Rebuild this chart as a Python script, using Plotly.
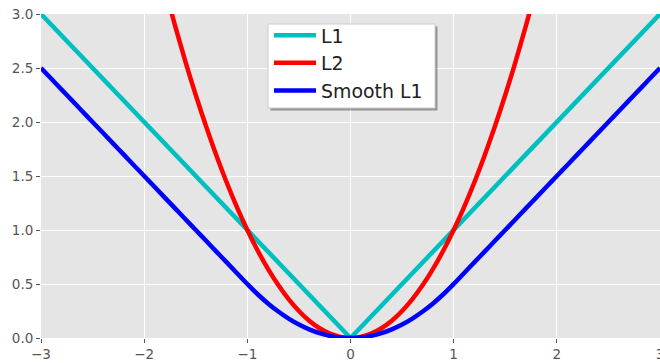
import plotly.graph_objects as go

x_vals = [-3.0, -2.9, -2.8, -2.7, -2.6, -2.5, -2.4, -2.3, -2.2, -2.1, -2.0,
          -1.9, -1.8, -1.7, -1.6, -1.5, -1.4, -1.3, -1.2, -1.1, -1.0,
          -0.9, -0.8, -0.7, -0.6, -0.5, -0.4, -0.3, -0.2, -0.1, 0.0,
          0.1, 0.2, 0.3, 0.4, 0.5, 0.6, 0.7, 0.8, 0.9, 1.0,
          1.1, 1.2, 1.3, 1.4, 1.5, 1.6, 1.7, 1.8, 1.9, 2.0,
          2.1, 2.2, 2.3, 2.4, 2.5, 2.6, 2.7, 2.8, 2.9, 3.0]

l1_vals = [3.0, 2.9, 2.8, 2.7, 2.6, 2.5, 2.4, 2.3, 2.2, 2.1, 2.0,
           1.9, 1.8, 1.7, 1.6, 1.5, 1.4, 1.3, 1.2, 1.1, 1.0,
           0.9, 0.8, 0.7, 0.6, 0.5, 0.4, 0.3, 0.2, 0.1, 0.0,
           0.1, 0.2, 0.3, 0.4, 0.5, 0.6, 0.7, 0.8, 0.9, 1.0,
           1.1, 1.2, 1.3, 1.4, 1.5, 1.6, 1.7, 1.8, 1.9, 2.0,
           2.1, 2.2, 2.3, 2.4, 2.5, 2.6, 2.7, 2.8, 2.9, 3.0]

l2_vals = [9.0, 8.41, 7.84, 7.29, 6.76, 6.25, 5.76, 5.29, 4.84, 4.41, 4.0,
           3.61, 3.24, 2.89, 2.56, 2.25, 1.96, 1.69, 1.44, 1.21, 1.0,
           0.81, 0.64, 0.49, 0.36, 0.25, 0.16, 0.09, 0.04, 0.01, 0.0,
           0.01, 0.04, 0.09, 0.16, 0.25, 0.36, 0.49, 0.64, 0.81, 1.0,
           1.21, 1.44, 1.69, 1.96, 2.25, 2.56, 2.89, 3.24, 3.61, 4.0,
           4.41, 4.84, 5.29, 5.76, 6.25, 6.76, 7.29, 7.84, 8.41, 9.0]

smooth_l1_vals = [2.5, 2.4, 2.3, 2.2, 2.1, 2.0, 1.9, 1.8, 1.7, 1.6, 1.5,
                  1.4, 1.3, 1.2, 1.1, 1.0, 0.9, 0.8, 0.7, 0.6, 0.5,
                  0.405, 0.32, 0.245, 0.18, 0.125, 0.08, 0.045, 0.02, 0.005, 0.0,
                  0.005, 0.02, 0.045, 0.08, 0.125, 0.18, 0.245, 0.32, 0.405, 0.5,
                  0.6, 0.7, 0.8, 0.9, 1.0, 1.1, 1.2, 1.3, 1.4, 1.5,
                  1.6, 1.7, 1.8, 1.9, 2.0, 2.1, 2.2, 2.3, 2.4, 2.5]

x_ticks = [-3, -2, -1, 0, 1, 2, 3]
x_tick_labels = ["\u22123", "\u22122", "\u22121", "0", "1", "2", "3"]
y_ticks = [0.0, 0.5, 1.0, 1.5, 2.0, 2.5, 3.0]
y_tick_labels = ["0.0", "0.5", "1.0", "1.5", "2.0", "2.5", "3.0"]

fig = go.Figure()
fig.add_trace(go.Scatter(x=x_vals, y=l1_vals, mode="lines", name="L1",
                         line=dict(color="#00BFBF", width=4.5)))
fig.add_trace(go.Scatter(x=x_vals, y=l2_vals, mode="lines", name="L2",
                         line=dict(color="#FF0000", width=4.5, shape="spline")))
fig.add_trace(go.Scatter(x=x_vals, y=smooth_l1_vals, mode="lines", name="Smooth L1",
                         line=dict(color="#0000FF", width=4.5, shape="spline")))

W, H = 660, 363
L, R, T, B = 41, 0, 14, 25
pw = W - L - R
ph = H - T - B


def px(xp):
    return (xp - L) / pw


def py(yp):
    return (H - B - yp) / ph


# legend frame (with drop shadow) drawn behind the legend entries
box_l, box_t, box_r, box_b = 268, 24, 435, 108
fig.add_shape(type="rect", xref="paper", yref="paper", layer="above",
              x0=px(box_l + 2.5), x1=px(box_r + 2.5),
              y0=py(box_b + 2.5), y1=py(box_t + 2.5),
              fillcolor="rgba(0,0,0,0.35)", line=dict(width=0))
fig.add_shape(type="rect", xref="paper", yref="paper", layer="above",
              x0=px(box_l), x1=px(box_r), y0=py(box_b), y1=py(box_t),
              fillcolor="white", line=dict(color="#CCCCCC", width=1))

fig.update_layout(
    width=W, height=H,
    margin=dict(l=L, r=R, t=T, b=B, autoexpand=False),
    paper_bgcolor="white",
    plot_bgcolor="#E5E5E5",
    font=dict(family="DejaVu Sans", color="#555555", size=13),
    showlegend=True,
    legend=dict(x=px(269), y=py(16.5), xanchor="left", yanchor="top",
                bgcolor="rgba(0,0,0,0)", borderwidth=0,
                font=dict(size=18.9, color="#222222"), tracegroupgap=0,
                itemwidth=42),
    xaxis=dict(range=[-3, 3], tickvals=x_ticks, ticktext=x_tick_labels,
               showgrid=True, gridcolor="white", gridwidth=1, zeroline=False,
               ticks="outside", ticklen=4, tickcolor="#555555", showline=False,
               ticklabeloverflow="allow", automargin=False,
               tickfont=dict(size=13.5, color="#555555")),
    yaxis=dict(range=[0, 3], tickvals=y_ticks, ticktext=y_tick_labels,
               showgrid=True, gridcolor="white", gridwidth=1, zeroline=False,
               ticks="outside", ticklen=4, tickcolor="#555555", showline=False,
               ticklabeloverflow="allow", automargin=False,
               tickfont=dict(size=13.5, color="#555555")),
)

fig.write_html(
    "out.html",
    config={"displayModeBar": False},
    post_script="document.body.style.margin='0';document.body.style.overflow='hidden';"
                "document.documentElement.style.overflow='hidden';",
)
